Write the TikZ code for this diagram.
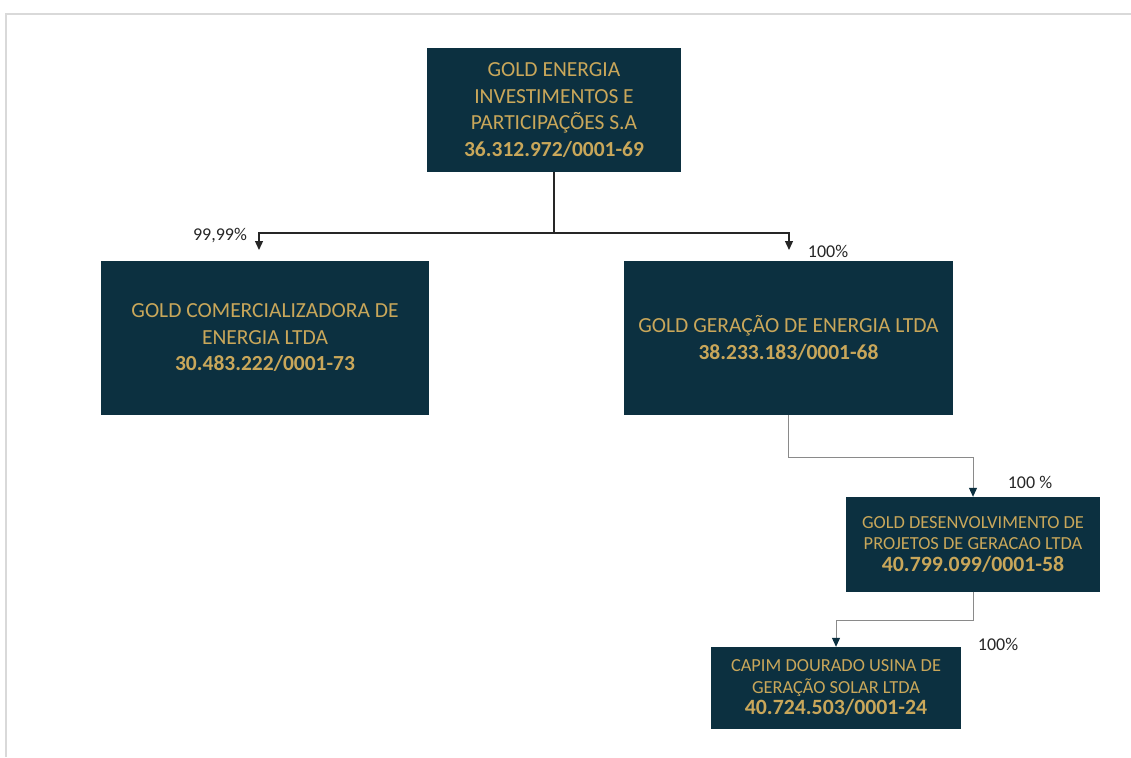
\documentclass[tikz,border=0pt]{standalone}
\usepackage{fontspec}
\setmainfont{Carlito}
\usetikzlibrary{arrows.meta}
\definecolor{boxblue}{HTML}{0C3040}
\definecolor{gold}{HTML}{C9A75A}
\definecolor{framegray}{HTML}{D9D9D9}
\definecolor{linkgray}{HTML}{8A8A8A}

\begin{document}
\begin{tikzpicture} [x = 1pt, y = -1pt,
  firm/.style = {fill=boxblue, text=gold, align=center, inner sep=0pt},
  bigfirm/.style = {firm, font=\fontsize{21.5}{26.5}\selectfont},
  smallfirm/.style = {firm, font=\fontsize{18.4}{21.5}\selectfont},
  share/.style = {text=black!85, font=\fontsize{18}{22}\selectfont},
  toplink/.style = {black!85, line width=1.3pt},
  sublink/.style = {linkgray, line width=1pt},
  toptip/.style = {-{Triangle[width=8pt, length=9pt]}},
  subtip/.style = {-{Triangle[width=8pt, length=9pt, color=boxblue]}}]
\useasboundingbox (0, 0) rectangle (1131, 757);
\draw[framegray, line width=2pt] (6, 757) -- (6, 14) -- (1131, 14);
\node[bigfirm, minimum width=254pt, minimum height=124pt] (gei) at (554, 110){GOLD ENERGIA\\INVESTIMENTOS E\\PARTICIPAÇÕES S.A\\\textbf{36.312.972/0001-69}};
\node[bigfirm, minimum width=328pt, minimum height=154pt] (gcom) at (265, 338){GOLD COMERCIALIZADORA DE\\ENERGIA LTDA\\\textbf{30.483.222/0001-73}};
\node[bigfirm, minimum width=329pt, minimum height=154pt] (ggen) at (788.5, 338){GOLD GERAÇÃO DE ENERGIA LTDA\\\textbf{38.233.183/0001-68}};
\node[smallfirm, minimum width=254pt, minimum height=95pt] (gdes) at (973, 544.5){GOLD DESENVOLVIMENTO DE\\PROJETOS DE GERACAO LTDA\\{\fontsize{21.8}{23}\selectfont\bfseries 40.799.099/0001-58}};
\node[smallfirm, minimum width=250pt, minimum height=82pt] (capim) at (836, 688){CAPIM DOURADO USINA DE\\GERAÇÃO SOLAR LTDA\\{\fontsize{21.8}{23}\selectfont\bfseries 40.724.503/0001-24}};
\coordinate (split) at (554, 233);
\coordinate (gcomin) at (259, 250);
\coordinate (ggenin) at (789, 250);
\draw[toplink] (gei) -- (split);
\draw[toplink, toptip] (split) -| (gcomin);
\draw[toplink, toptip] (split) -| (ggenin);
\draw[sublink, subtip] (ggen.south) -- ++(0, 42) -| (gdes.north);
\draw[sublink, subtip] (gdes.south) -- ++(0, 28) -| (capim.north);
\node[share] (sharecom) at (220, 236){99,99\%};
\node[share] (sharegen) at (828, 251){100\%};
\node[share] (sharedes) at (1030, 482){100 \%};
\node[share] (sharecap) at (998, 644){100\%};
\end{tikzpicture}
\end{document}
